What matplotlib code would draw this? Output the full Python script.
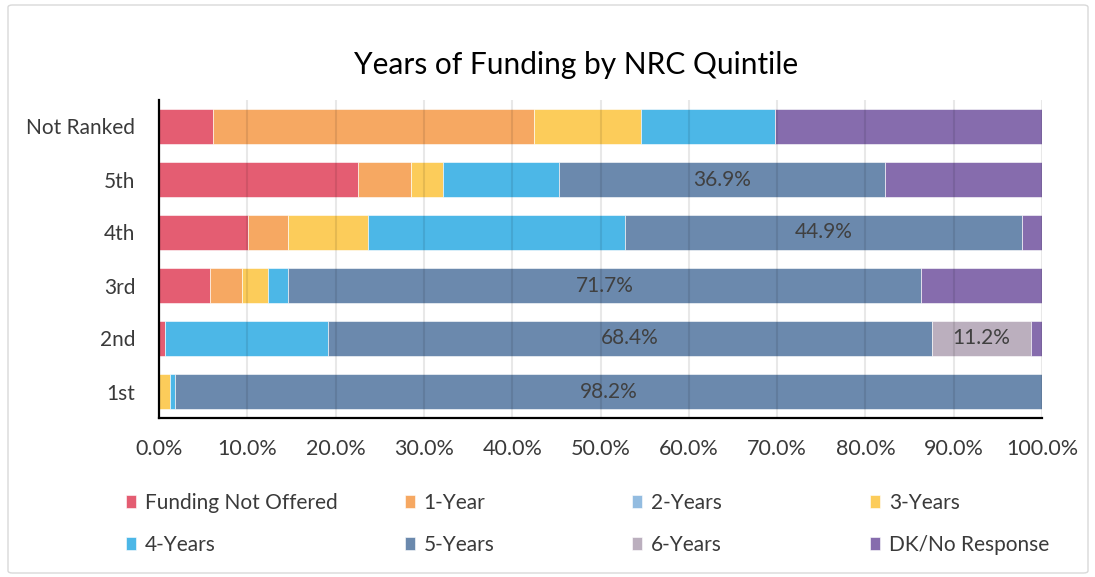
import matplotlib
matplotlib.use("Agg")
import matplotlib.pyplot as plt
from matplotlib.patches import FancyBboxPatch
from matplotlib.ticker import FuncFormatter

plt.rcParams['font.family'] = ['Lato', 'DejaVu Sans']

categories = ["Not Ranked", "5th", "4th", "3rd", "2nd", "1st"]
series_names = ["Funding Not Offered", "1-Year", "2-Years", "3-Years",
                "4-Years", "5-Years", "6-Years", "DK/No Response"]
colors = ["#E45D72", "#F6A862", "#93BCE0", "#FCCC5A",
          "#4CB7E7", "#6B89AD", "#BBAFBE", "#866CAD"]

funding_not_offered = [6.1, 22.5, 10.1, 5.8, 0.7, 0.0]
one_year            = [36.4, 6.0, 4.5, 3.6, 0.0, 0.0]
two_years           = [0.0, 0.0, 0.0, 0.0, 0.0, 0.0]
three_years         = [12.1, 3.7, 9.1, 2.9, 0.0, 1.2]
four_years          = [15.2, 13.1, 29.1, 2.3, 18.4, 0.6]
five_years          = [0.0, 36.9, 44.9, 71.7, 68.4, 98.2]
six_years           = [0.0, 0.0, 0.0, 0.0, 11.2, 0.0]
dk_no_response      = [30.2, 17.8, 2.3, 13.8, 1.3, 0.0]

series = [funding_not_offered, one_year, two_years, three_years,
          four_years, five_years, six_years, dk_no_response]
labeled = {"5-Years", "6-Years"}

fig = plt.figure(figsize=(10.95, 5.77), dpi=100)
ax = fig.add_axes([159/1095, 1 - 418/577, (1042-159)/1095, (418-100)/577])

ypos = list(range(len(categories)))
left = [0.0] * len(categories)
handles = []
for name, vals, col in zip(series_names, series, colors):
    bars = ax.barh(ypos, vals, left=left, height=0.66, color=col,
                   edgecolor='white', linewidth=0.4, label=name, zorder=2)
    handles.append(bars)
    if name in labeled:
        for i, v in enumerate(vals):
            if v > 0:
                ax.text(left[i] + v / 2, ypos[i], f"{v:.1f}%", ha='center',
                        va='center', fontsize=15, color='#404040', zorder=4)
    left = [a + b for a, b in zip(left, vals)]

ax.set_ylim(len(categories) - 0.5, -0.5)
ax.set_xlim(0, 100)
ax.set_xticks(range(0, 101, 10))
ax.xaxis.set_major_formatter(FuncFormatter(lambda v, p: f"{v:.1f}%"))
ax.set_yticks(ypos)
ax.set_yticklabels(categories)
ax.tick_params(axis='both', length=0, labelcolor='#3a3a3a')
ax.tick_params(axis='x', pad=15, labelsize=15.5)
ax.tick_params(axis='y', pad=17, labelsize=15)
ax.grid(axis='x', color='black', alpha=0.09, linewidth=1.5, zorder=3)
ax.set_axisbelow(False)
for s in ['top', 'right']:
    ax.spines[s].set_visible(False)
for s in ['left', 'bottom']:
    ax.spines[s].set_color('black')
    ax.spines[s].set_linewidth(1.6)
    ax.spines[s].set_zorder(5)

fig.text(576/1095, 1 - 65/577, "Years of Funding by NRC Quintile",
         ha='center', va='center', fontsize=21.5, color='black')

col_x = [126, 405, 632, 870]
for c in range(4):
    hs = [handles[c], handles[c + 4]]
    ls = [series_names[c], series_names[c + 4]]
    leg = fig.legend(hs, ls, loc='upper left',
                     bbox_to_anchor=(col_x[c]/1095, 1 - 493/577),
                     ncol=1, frameon=False, fontsize=15,
                     handlelength=0.5, handleheight=0.6, handletextpad=0.4,
                     labelspacing=1.05, borderpad=0, borderaxespad=0)
    for t in leg.get_texts():
        t.set_color('#3a3a3a')

border = FancyBboxPatch((8/1095, 4/577), 1080/1095, 568/577,
                        boxstyle="round,pad=0,rounding_size=0.004",
                        transform=fig.transFigure, fill=False,
                        edgecolor='#d9d9d9', linewidth=1.0)
fig.patches.append(border)

fig.savefig("out.png", dpi=100)
